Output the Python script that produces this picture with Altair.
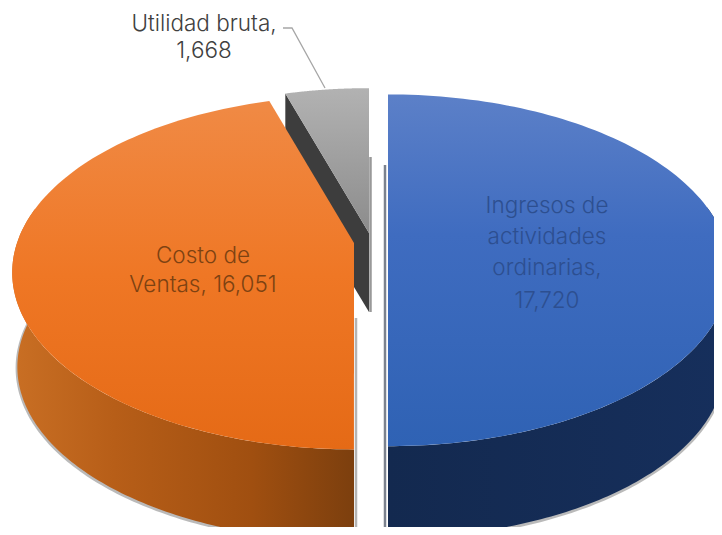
import math
import altair as alt

# Chart values
categories = ["Ingresos de actividades ordinarias", "Costo de Ventas", "Utilidad bruta"]
values = [17720, 16051, 1668]
label_lines = [
    ["Ingresos de", "actividades", "ordinarias,", "17,720"],
    ["Costo de", "Ventas, 16,051"],
    ["Utilidad bruta,", "1,668"],
]

total = sum(values)
cum = [sum(values[:i]) for i in range(len(values) + 1)]
angles = [(cum[i] / total * 360, cum[i + 1] / total * 360) for i in range(len(values))]

K = 1 / 6  # perspective of the tilted disc
DEPTH = 95


def rim(c, rx, ry, a0, a1, dy=0, s=1.0, n=120):
    pts = []
    for i in range(n + 1):
        t = math.radians(a0 + (a1 - a0) * i / n)
        u, v = math.sin(t), math.cos(t)
        d = 1 + K * v
        pts.append([c[0] + s * rx * u / d, c[1] + dy - s * ry * v / d])
    return pts


def feature(coords, kind="Polygon"):
    geom = [coords + [coords[0]]] if kind == "Polygon" else coords
    return {"type": "Feature", "properties": {}, "geometry": {"type": kind, "coordinates": geom}}


def shape(coords, kind="Polygon", **mark):
    return (alt.Chart(alt.Data(values=[feature(coords, kind)]))
            .mark_geoshape(**mark)
            .project(type="identity", scale=1, translate=[-8, -8]))


def vgrad(stops):
    return alt.Gradient(gradient="linear", x1=0, y1=0, x2=0, y2=1,
                        stops=[alt.GradientStop(offset=o, color=c) for o, c in stops])


def hgrad(stops):
    return alt.Gradient(gradient="linear", x1=0, y1=0, x2=1, y2=0,
                        stops=[alt.GradientStop(offset=o, color=c) for o, c in stops])


def wall(c, rx, ry, a0, a1):
    top = rim(c, rx, ry, a0, a1)
    low = rim(c, rx, ry, a0, a1, dy=DEPTH, s=0.985)
    return top + low[::-1]


def wedge(c, rx, ry, a0, a1):
    return [list(c)] + rim(c, rx, ry, a0, a1)


blue = ((388, 241), 337, 171)
orange = ((354, 243), 337, 172)
gray = ((369, 233), 333, 169)
a_b, a_o, a_g = angles

layers = []

# soft shadows below the outer walls
for (c, rx, ry), (a0, a1) in [(orange, (180, 282)), (blue, (78, 180))]:
    layers.append(shape(rim(c, rx, ry, a0, a1, dy=DEPTH + 1, s=0.985), kind="LineString",
                        filled=False, stroke="#555555", strokeWidth=3.5, opacity=0.4))

# Utilidad bruta
g_edge = rim(*gray, a_g[0], a_g[0], n=1)[0]
layers.append(shape([g_edge, list(gray[0]), [gray[0][0], gray[0][1] + 79], [g_edge[0], g_edge[1] + 79]],
                    filled=True, fill="#3d3d3d"))
layers.append(shape([[370.5, 157], [370.5, 312]], kind="LineString",
                    filled=False, stroke="#808080", strokeWidth=2.5, opacity=0.8))
layers.append(shape(wedge(*gray, a_g[0], a_g[1]), filled=True,
                    fill=vgrad([(0, "#b2b2b2"), (1, "#8c8c8c")])))

# Costo de Ventas
layers.append(shape([[356, 318], [356, 535]], kind="LineString",
                    filled=False, stroke="#777777", strokeWidth=2.5, opacity=0.55))
layers.append(shape(wall(*orange, 180, 282), filled=True,
                    fill=hgrad([(0, "#c96f24"), (0.3, "#b75e18"), (0.7, "#a04f10"), (1, "#7c3f0e")])))
layers.append(shape(wedge(*orange, a_o[0], a_o[1]), filled=True,
                    fill=vgrad([(0, "#f08a45"), (0.5, "#ef7725"), (1, "#e56a16")])))

# Ingresos
layers.append(shape([[385, 165], [385, 535]], kind="LineString",
                    filled=False, stroke="#5b6473", strokeWidth=2.5, opacity=0.8))
layers.append(shape(wall(*blue, 78, 180), filled=True,
                    fill=hgrad([(0, "#13294f"), (1, "#162f5c")])))
layers.append(shape(wedge(*blue, a_b[0], a_b[1]), filled=True,
                    fill=vgrad([(0, "#5c80c8"), (0.4, "#3f6cc0"), (1, "#2f62b4")])))

# Leader line
layers.append(shape([[283, 28], [292, 28], [325, 88]], kind="LineString",
                    filled=False, stroke="#a6a6a6", strokeWidth=1.3))

FONT = "Inter"
placements = [(547, [206, 237, 268, 301], "#2d4f90"),
              (203, [256, 285], "#7d4212"),
              (204, [24, 51], "#404040")]

for lines, (x, ys, col) in zip(label_lines, placements):
    for line, y in zip(lines, ys):
        layers.append(
            alt.Chart(alt.Data(values=[{"t": line}])).mark_text(
                font=FONT, fontSize=22.5, fontWeight=300, color=col, align="center", baseline="middle"
            ).encode(text="t:N", x=alt.value(x - 8), y=alt.value(y - 8))
        )

chart = alt.layer(*layers).properties(
    width=706, height=519, padding=0, autosize=alt.AutoSizeParams(type="none"), background="white"
).configure_view(stroke=None)

chart.save("out.html", embed_options={"renderer": "svg", "actions": False})
